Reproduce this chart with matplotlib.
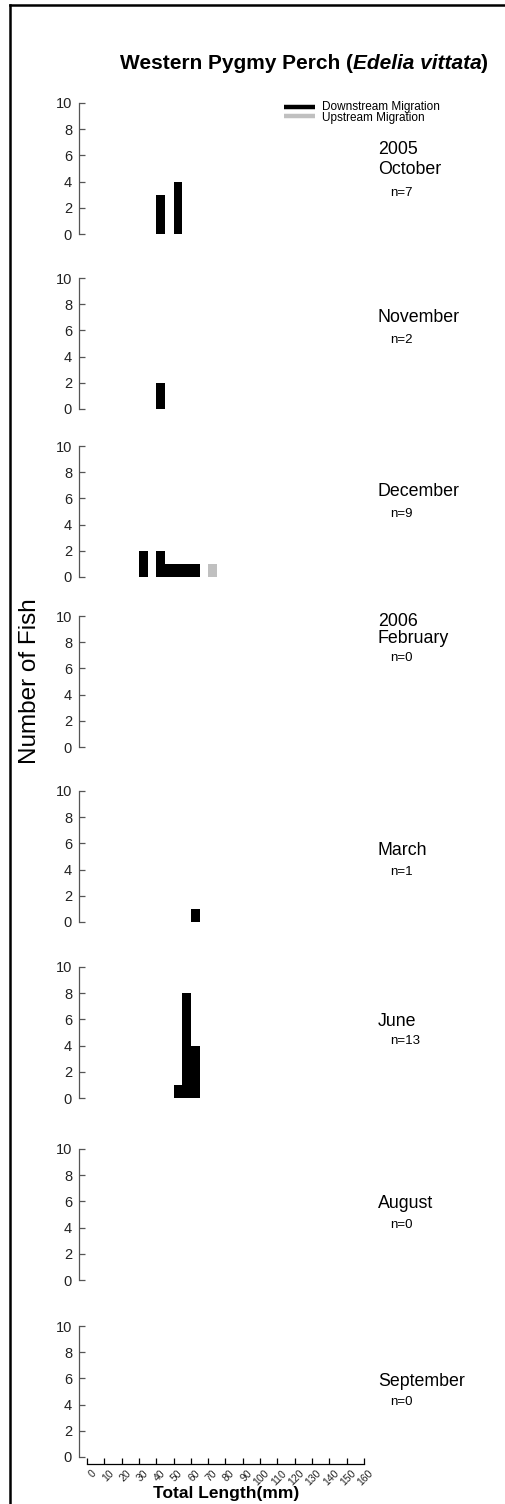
import matplotlib
matplotlib.use("Agg")
import matplotlib.pyplot as plt
from matplotlib.lines import Line2D
import matplotlib.transforms as mtransforms

plt.rcParams["font.family"] = ["Liberation Sans", "DejaVu Sans"]

W, H = 506, 1504

# months (one panel each), year label shown above the first month of a year
months = ["October", "November", "December", "February", "March", "June", "August", "September"]
years = ["2005", "", "", "2006", "", "", "", ""]
n_fish = [7, 2, 9, 0, 1, 13, 0, 0]

# lower edge of 5 mm length classes and number of fish caught
down_bins = [[40, 50], [40], [30, 40, 45, 50, 55, 60], [], [60], [50, 55, 60], [], []]
down_counts = [[3, 4], [2], [2, 2, 1, 1, 1, 1], [], [1], [1, 8, 4], [], []]
up_bins = [[], [], [70], [], [], [], [], []]
up_counts = [[], [], [1], [], [], [], [], []]

bin_width = 5
x_ticks = list(range(0, 161, 10))
y_ticks = [0, 2, 4, 6, 8, 10]

# layout in pixels
zero_px = [234, 409, 577, 747, 922, 1098, 1280, 1457]
panel_h = 131
ax_left, ax_w = 79, 285
label_px = [(150, 170, 193), (None, 318, 340), (None, 492, 514), (621, 639, 658),
            (None, 851, 872), (None, 1021, 1041), (None, 1204, 1225), (None, 1382, 1402)]

axis_col = "#555555"
text_col = "#222222"


def fx(x):
    return x / W


def fy(y):
    return 1 - y / H


fig = plt.figure(figsize=(W / 100, H / 100), dpi=100)

for i, m in enumerate(months):
    ax = fig.add_axes([fx(ax_left), fy(zero_px[i]), ax_w / W, panel_h / H])
    ax.bar(down_bins[i], down_counts[i], width=bin_width, align="edge",
           color="black", linewidth=0)
    ax.bar(up_bins[i], up_counts[i], width=bin_width, align="edge",
           color="#c0c0c0", linewidth=0)
    ax.set_xlim(-4.6, 160)
    ax.set_ylim(0, 10)
    ax.set_yticks(y_ticks)
    ax.spines["top"].set_visible(False)
    ax.spines["right"].set_visible(False)
    ax.spines["left"].set_color(axis_col)
    ax.spines["left"].set_linewidth(0.9)
    ax.tick_params(axis="y", direction="in", length=4, width=0.9,
                   color=axis_col, labelcolor=text_col, labelsize=10.5, pad=5)
    if i < len(months) - 1:
        ax.spines["bottom"].set_visible(False)
        ax.set_xticks([])
    else:
        ax.spines["bottom"].set_position(("outward", 5))
        ax.spines["bottom"].set_bounds(0, 160)
        ax.spines["bottom"].set_linewidth(0.9)
        ax.set_xticks(x_ticks)
        ax.set_xticklabels([str(t) for t in x_ticks], rotation=45, ha="right",
                           va="top", rotation_mode="anchor")
        ax.tick_params(axis="x", direction="in", length=4, width=0.9,
                       labelcolor=text_col, labelsize=7.5, pad=3)
        off = mtransforms.ScaledTranslation(4 / 100, 0, fig.dpi_scale_trans)
        for lab in ax.get_xticklabels():
            lab.set_transform(lab.get_transform() + off)

    yr, mon, nn = label_px[i]
    if yr is not None:
        fig.text(fx(378), fy(yr), years[i], fontsize=12.8, va="center", ha="left")
    fig.text(fx(378), fy(mon), m, fontsize=12.8, va="center", ha="left")
    fig.text(fx(390), fy(nn), "n=%d" % n_fish[i], fontsize=9.5, va="center", ha="left")

# title: bold with bold-italic species name
renderer = fig.canvas.get_renderer()
parts = [("Western Pygmy Perch (", "normal"), ("Edelia vittata", "italic"), (")", "normal")]
objs = []
for s, st in parts:
    t = fig.text(0, fy(69), s, fontsize=15, fontweight="bold", style=st,
                 va="baseline", ha="left")
    objs.append(t)
widths = [o.get_window_extent(renderer).width for o in objs]
x0 = 304 - sum(widths) / 2
for o, w in zip(objs, widths):
    o.set_x(fx(x0))
    x0 += w

# legend
fig.add_artist(Line2D([fx(284), fx(315)], [fy(106.5)] * 2, color="black", lw=3.2,
                      solid_capstyle="butt"))
fig.add_artist(Line2D([fx(284), fx(315)], [fy(116)] * 2, color="#c0c0c0", lw=3.2,
                      solid_capstyle="butt"))
fig.text(fx(322), fy(110), "Downstream Migration", fontsize=8.5, va="baseline")
fig.text(fx(322), fy(120.5), "Upstream Migration", fontsize=8.5, va="baseline")

fig.text(fx(30), fy(681), "Number of Fish", fontsize=17.5, rotation=90,
         va="center", ha="center")
fig.text(fx(226), fy(1498), "Total Length(mm)", fontsize=12.5, fontweight="bold",
         va="baseline", ha="center")

# frame around the figure
fig.add_artist(Line2D([fx(10), fx(10)], [fy(5), 0], color="black", lw=1.8,
                      solid_capstyle="projecting"))
fig.add_artist(Line2D([fx(10), 1], [fy(5), fy(5)], color="black", lw=1.8,
                      solid_capstyle="projecting"))

fig.savefig("out.png", dpi=100)
